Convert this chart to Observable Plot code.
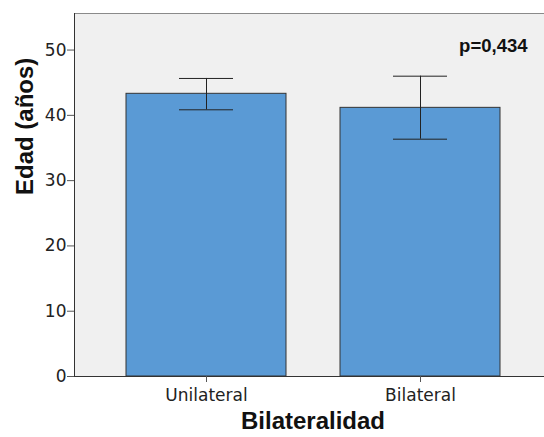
<!DOCTYPE html>
<html>
<head>
<meta charset="utf-8">
<script src="https://cdn.jsdelivr.net/npm/d3@7"></script>
<script src="https://cdn.jsdelivr.net/npm/@observablehq/plot@0.6"></script>
<style>
  html, body { margin: 0; padding: 0; background: #fff; overflow: hidden; }
  #chart { width: 544px; height: 437px; overflow: hidden; }
  #chart svg { display: block; max-width: none !important; width: 551px !important; height: 437px !important; }
</style>
</head>
<body>
<div id="chart"></div>
<script>
const categories = ["Unilateral", "Bilateral"];
const means = [43.3, 41.15];
const lower = [40.85, 36.35];
const upper = [45.65, 46.0];
const yTicks = [0, 10, 20, 30, 40, 50];
const yLabel = "Edad (años)";
const xLabel = "Bilateralidad";
const pLabel = "p=0,434";

const data = categories.map((c, i) => ({cat: c, mean: means[i], lo: lower[i], hi: upper[i]}));

const chart = Plot.plot({
  width: 551,
  height: 437,
  marginLeft: 74,
  marginRight: 0,
  marginTop: 13,
  marginBottom: 61,
  style: {fontFamily: "DejaVu Sans", fontSize: "17px", color: "#222", background: "#fff"},
  x: {domain: categories, paddingInner: 0.254, paddingOuter: 0.238, label: null},
  y: {domain: [0, 55.6], label: null},
  marks: [
    Plot.frame({fill: "#f0f0f0", stroke: "#8a8a8a"}),
    Plot.barY(data, {x: "cat", y: "mean", fill: "#5a9ad5", stroke: "#333", strokeWidth: 1}),
    Plot.ruleX(data, {x: "cat", y1: "lo", y2: "hi", stroke: "#222", strokeWidth: 1}),
    Plot.tickY(data, {x: "cat", y: "lo", stroke: "#222", insetLeft: 53, insetRight: 53}),
    Plot.tickY(data, {x: "cat", y: "hi", stroke: "#222", insetLeft: 53, insetRight: 53}),
    Plot.ruleY([0], {stroke: "#333"}),
    Plot.frame({anchor: "left", stroke: "#333"}),
    Plot.axisY({ticks: yTicks, tickSize: 7, tickPadding: 1, fontSize: 17, stroke: "#555", fill: "#222", label: null}),
    Plot.axisX({tickSize: 6, tickPadding: 6, fontSize: 17, stroke: "#555", fill: "#222", label: null}),
    Plot.text([pLabel], {frameAnchor: "top-right", dx: -24, dy: 25, lineAnchor: "top", textAnchor: "end",
      fontFamily: "Liberation Sans", fontWeight: "bold", fontSize: 18.5, fill: "#111"}),
    Plot.text([xLabel], {frameAnchor: "bottom", dy: 52, lineAnchor: "bottom",
      fontFamily: "Liberation Sans", fontWeight: "bold", fontSize: 24, fill: "#111"}),
    Plot.text([yLabel], {frameAnchor: "left", dx: -42, lineAnchor: "bottom", rotate: -90,
      fontFamily: "Liberation Sans", fontWeight: "bold", fontSize: 24, fill: "#111"})
  ]
});
document.getElementById("chart").appendChild(chart);
</script>
</body>
</html>
